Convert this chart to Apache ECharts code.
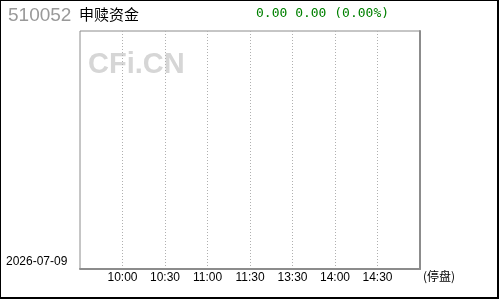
<!DOCTYPE html>
<html><head><meta charset="utf-8">
<script src="https://cdn.jsdelivr.net/npm/echarts@6/dist/echarts.min.js"></script>
<style>html,body{margin:0;padding:0;background:#fff}#c{width:500px;height:300px}</style>
</head><body><div id="c"></div>
<script>
var code = '510052';
var title = '申赎资金';
var tradeDate = '2026-07-09';
var status = '(停盘)';
var quote = [0.00, 0.00, 0.00]; // price, change, change %
var times = ['09:30','10:00','10:30','11:00','11:30','13:30','14:00','14:30','15:00'];
var flowValues = []; // suspended: no data

var chart = echarts.init(document.getElementById('c'), null, {renderer:'canvas'});
var quoteText = quote[0].toFixed(2) + ' ' + quote[1].toFixed(2) + ' (' + quote[2].toFixed(2) + '%)';
chart.setOption({
  animation:false,
  grid:{left:80, top:31, width:340, height:238, show:true, borderColor:'#8c8c8c', borderWidth:1},
  xAxis:{type:'category', data:times, boundaryGap:false,
    axisLine:{show:true, onZero:false, lineStyle:{color:'#8c8c8c', width:2}},
    axisTick:{show:false},
    axisLabel:{interval:function(i){return i>0 && i<times.length-1;}, color:'#000', fontSize:12, fontFamily:'Liberation Sans', margin:3},
    splitLine:{show:true, interval:function(i){return i>0 && i<times.length-1;}, lineStyle:{color:'#b0b0b0', type:[1,2], width:1}}
  },
  yAxis:{type:'value', min:-1, max:1, position:'right',
    axisLine:{show:true, onZero:false, lineStyle:{color:'#8c8c8c', width:2}},
    axisTick:{show:false}, axisLabel:{show:false}, splitLine:{show:false}},
  series:[{type:'line', data:flowValues, symbol:'none', lineStyle:{color:'#0000ff', width:1}}],
  graphic:[
    {type:'rect', shape:{x:0,y:0,width:498,height:298}, style:{fill:'none', stroke:'#000', lineWidth:2}, silent:true},
    {type:'text', left:88, top:50, style:{text:'CFi.CN', fill:'#d6d6d6', font:'bold 29px "Liberation Sans", Arial'}, z:-1},
    {type:'text', left:8, top:6, style:{text:code, fill:'#999999', font:'19px "Liberation Sans", Arial'}},
    {type:'text', left:79, top:7, style:{text:title, fill:'#000', font:'15px "Noto Sans CJK SC"'}},
    {type:'text', left:256, top:7, style:{text:quoteText, fill:'#008000', font:'13px "DejaVu Sans Mono"'}},
    {type:'text', left:6, top:256, style:{text:tradeDate, fill:'#000', font:'12px "Liberation Sans", Arial'}},
    {type:'text', left:423, top:270, style:{text:status, fill:'#000', font:'12px "Noto Sans CJK SC"'}}
  ]
});
</script></body></html>
